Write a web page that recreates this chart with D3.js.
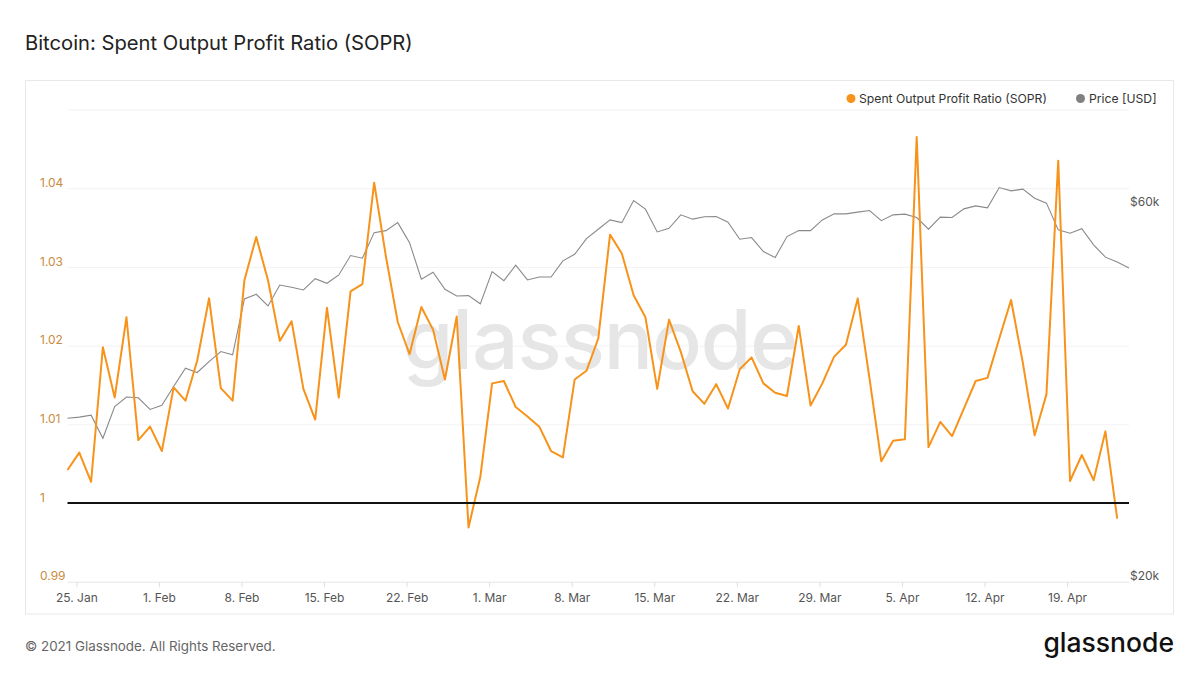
<!DOCTYPE html>
<html>
<head>
<meta charset="utf-8">
<script src="https://cdn.jsdelivr.net/npm/d3@7"></script>
<style>
  body { margin: 0; background: #fff; }
  text { font-family: Inter, "Noto Sans", sans-serif; }
</style>
</head>
<body>
<script>
// daily data, 24 Jan 2021 - 24 Apr 2021
const startDay = "2021-01-24"
const endDay = "2021-04-25"

const sopr = [1.0042, 1.0064, 1.0027, 1.0198, 1.0134, 1.0236, 1.0080, 1.0097, 1.0066, 1.0147,
  1.0130, 1.0181, 1.0260, 1.0146, 1.0130, 1.0283, 1.0338, 1.0283, 1.0206, 1.0231,
  1.0145, 1.0106, 1.0248, 1.0134, 1.0269, 1.0278, 1.0407, 1.0313, 1.0230, 1.0189,
  1.0249, 1.0220, 1.0157, 1.0237, 0.9969, 1.0033, 1.0152, 1.0155, 1.0122, 1.0110,
  1.0097, 1.0066, 1.0058, 1.0157, 1.0168, 1.0209, 1.0341, 1.0317, 1.0264, 1.0236,
  1.0145, 1.0233, 1.0192, 1.0142, 1.0126, 1.0151, 1.0120, 1.0170, 1.0185, 1.0152,
  1.0140, 1.0136, 1.0225, 1.0124, 1.0152, 1.0186, 1.0201, 1.0260, 1.0158, 1.0053,
  1.0079, 1.0081, 1.0465, 1.0071, 1.0103, 1.0085, 1.0120, 1.0155, 1.0159, 1.0209,
  1.0258, 1.0178, 1.0086, 1.0138, 1.0435, 1.0028, 1.0061, 1.0029, 1.0091, 0.9980]

const price = [32320, 32420, 32610, 30470, 33450, 34390, 34320, 33160, 33580, 35470,
  37440, 36960, 38170, 39310, 38930, 45870, 46510, 44940, 47790, 47470,
  47100, 48690, 48030, 49220, 52100, 51700, 55730, 56060, 57390, 54120,
  48600, 49610, 47200, 46280, 46320, 45220, 49700, 48400, 50650, 48500,
  48930, 48930, 51300, 52310, 54750, 56290, 57850, 57390, 61240, 59710,
  55850, 56450, 58720, 57980, 58380, 58430, 57450, 54660, 54930, 52720,
  51800, 55090, 56060, 56060, 57850, 58890, 58890, 59190, 59470, 57730,
  58720, 58840, 58260, 56290, 58330, 58260, 59760, 60290, 59940, 63620,
  63000, 63320, 61660, 60770, 56180, 55630, 56390, 53770, 51860, 51110, 50220]

const leftTicks = [0.99, 1, 1.01, 1.02, 1.03, 1.04, 1.05]
const leftTickLabels = ["0.99", "1", "1.01", "1.02", "1.03", "1.04", ""]
const rightTicks = [20000, 60000]
const rightTickLabels = ["$20k", "$60k"]
const xTicks = ["2021-01-25", "2021-02-01", "2021-02-08", "2021-02-15", "2021-02-22", "2021-03-01",
  "2021-03-08", "2021-03-15", "2021-03-22", "2021-03-29", "2021-04-05", "2021-04-12", "2021-04-19"]
const xTickLabels = ["25. Jan", "1. Feb", "8. Feb", "15. Feb", "22. Feb", "1. Mar",
  "8. Mar", "15. Mar", "22. Mar", "29. Mar", "5. Apr", "12. Apr", "19. Apr"]

function main() {
  const W = 1199, H = 675
  const margin = {left: 67.5, right: 1129, top: 109.5, bottom: 581.7}

  const days = d3.utcDay.range(new Date(startDay), new Date(endDay))
  // tick labels are local midnights (UTC+6)
  const tickDates = xTicks.map(d => new Date(d + "T00:00:00+06:00"))

  let svg = d3.select("body").append("svg")
    .attr("width", W).attr("height", H)

  svg.append("rect").attr("width", W).attr("height", H).attr("fill", "#fff")

  // title
  svg.append("text")
    .attr("x", 25).attr("y", 50)
    .attr("font-size", 20.2).attr("fill", "#222")
    .text("Bitcoin: Spent Output Profit Ratio (SOPR)")

  // panel
  svg.append("rect")
    .attr("x", 25.5).attr("y", 80.5).attr("width", 1148).attr("height", 533.5)
    .attr("fill", "none").attr("stroke", "#e8e8e8")

  let x = d3.scaleUtc().domain([days[0], days[days.length - 1]]).range([margin.left, margin.right])
  let y = d3.scaleLinear().domain([0.99, 1.05]).range([margin.bottom, margin.top])
  let yPrice = d3.scaleLog().domain([20000, 80000]).range([margin.bottom, margin.top])

  // grid
  svg.append("g").selectAll("line")
    .data(leftTicks)
    .join("line")
    .attr("x1", margin.left).attr("x2", margin.right)
    .attr("y1", d => y(d) + 0.5).attr("y2", d => y(d) + 0.5)
    .attr("stroke", d => d == 0.99 ? "#e6e6e6" : "#f2f2f2")

  // watermark
  svg.append("text")
    .attr("x", 600).attr("y", 369)
    .attr("text-anchor", "middle")
    .attr("font-size", 82).attr("font-weight", 500)
    .attr("letter-spacing", -1)
    .attr("fill", "#e6e6e6")
    .text("glassnode")

  // x axis
  let xAxis = svg.append("g")
    .attr("transform", "translate(0," + (margin.bottom + 0.5) + ")")
    .call(d3.axisBottom(x).tickValues(tickDates).tickSize(5).tickFormat((d, i) => xTickLabels[i]))
  xAxis.select(".domain").remove()
  xAxis.selectAll(".tick line").attr("stroke", "#e0e0e0")
  xAxis.selectAll(".tick text")
    .attr("font-family", "Inter, sans-serif").attr("font-size", 12)
    .attr("fill", "#555").attr("dy", "0.98em")

  // left axis labels
  let yAxis = svg.append("g")
    .attr("transform", "translate(40,0)")
    .call(d3.axisRight(y).tickValues(leftTicks).tickSize(0).tickFormat((d, i) => leftTickLabels[i]))
  yAxis.select(".domain").remove()
  yAxis.selectAll(".tick text")
    .attr("x", 0).attr("dy", "-0.15em")
    .attr("font-family", "Inter, sans-serif").attr("font-size", 12)
    .attr("fill", "#c98b3d")

  // right axis labels
  let yAxisR = svg.append("g")
    .attr("transform", "translate(1130,0)")
    .call(d3.axisRight(yPrice).tickValues(rightTicks).tickSize(0).tickFormat((d, i) => rightTickLabels[i]))
  yAxisR.select(".domain").remove()
  yAxisR.selectAll(".tick text")
    .attr("x", 0).attr("dy", "-0.15em")
    .attr("font-family", "Inter, sans-serif").attr("font-size", 12)
    .attr("fill", "#555")

  // price line
  let priceLine = d3.line()
    .x((d, i) => x(days[i]))
    .y(d => yPrice(d))
  svg.append("path")
    .datum(price)
    .attr("d", priceLine)
    .attr("fill", "none").attr("stroke", "#8a8a8a").attr("stroke-width", 1.1)

  // sopr line
  let soprLine = d3.line()
    .x((d, i) => x(days[i]))
    .y(d => y(d))
  svg.append("path")
    .datum(sopr)
    .attr("d", soprLine)
    .attr("fill", "none").attr("stroke", "#f7931a").attr("stroke-width", 2)
    .attr("stroke-linejoin", "round")

  // break-even line at 1
  svg.append("line")
    .attr("x1", margin.left).attr("x2", margin.right)
    .attr("y1", y(1)).attr("y2", y(1))
    .attr("stroke", "#111").attr("stroke-width", 2)

  // legend
  let legend = svg.append("g")
  legend.append("circle").attr("cx", 851).attr("cy", 98.5).attr("r", 4.5).attr("fill", "#f7931a")
  legend.append("text").attr("x", 859).attr("y", 103).attr("font-size", 12.2).attr("fill", "#333")
    .text("Spent Output Profit Ratio (SOPR)")
  legend.append("circle").attr("cx", 1080.5).attr("cy", 98.5).attr("r", 4.5).attr("fill", "#808080")
  legend.append("text").attr("x", 1089).attr("y", 103).attr("font-size", 12.2).attr("fill", "#333")
    .text("Price [USD]")

  // footer
  svg.append("text")
    .attr("x", 25).attr("y", 650.5)
    .attr("font-size", 13.4).attr("fill", "#666")
    .text("© 2021 Glassnode. All Rights Reserved.")

  svg.append("text")
    .attr("x", 1174).attr("y", 652)
    .attr("text-anchor", "end")
    .attr("font-size", 26.5).attr("font-weight", 500)
    .attr("fill", "#111")
    .text("glassnode")
}

main()
</script>
</body>
</html>
